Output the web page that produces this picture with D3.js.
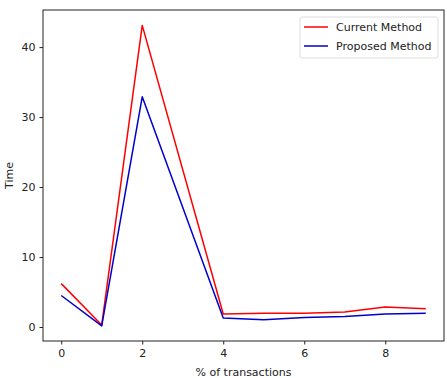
<!DOCTYPE html>
<html>
<head>
<meta charset="utf-8">
<script src="https://cdn.jsdelivr.net/npm/d3@7"></script>
<style>
  body { margin: 0; background: #fff; }
  text { font-family: "DejaVu Sans", sans-serif; }
</style>
</head>
<body>
<svg id="chart" width="447" height="378"></svg>
<script>
// data
let x_values = [0, 1, 2, 3, 4, 5, 6, 7, 8, 9];
let current_method = [6.2, 0.3, 43.1, null, 1.85, 1.95, 1.95, 2.15, 2.85, 2.6];
let proposed_method = [4.5, 0.15, 32.9, null, 1.3, 1.05, 1.35, 1.5, 1.85, 1.95];
let x_ticks = [0, 2, 4, 6, 8];
let y_ticks = [0, 10, 20, 30, 40];
let series_names = ['Current Method', 'Proposed Method'];
let series_colors = ['#ff0000', '#0000cc'];

let svg = d3.select('#chart');
let plot_left = 43, plot_right = 444, plot_top = 10, plot_bottom = 341;
let font_size = 11;

let x = d3.scaleLinear().domain([-0.45, 9.45]).range([plot_left, plot_right]);
let y = d3.scaleLinear().domain([-2.0, 45.3]).range([plot_bottom, plot_top]);

// frame
svg.append('rect')
  .attr('x', plot_left).attr('y', plot_top)
  .attr('width', plot_right - plot_left).attr('height', plot_bottom - plot_top)
  .attr('fill', 'none').attr('stroke', '#222').attr('stroke-width', 1);

let x_axis = svg.append('g').attr('transform', 'translate(0,' + plot_bottom + ')')
  .call(d3.axisBottom(x).tickValues(x_ticks).tickSize(3.5).tickPadding(5).tickFormat(d3.format('d')));
let y_axis = svg.append('g').attr('transform', 'translate(' + plot_left + ',0)')
  .call(d3.axisLeft(y).tickValues(y_ticks).tickSize(3.5).tickPadding(4).tickFormat(d3.format('d')));

[x_axis, y_axis].forEach(a => {
  a.select('.domain').remove();
  a.selectAll('line').attr('stroke', '#222');
  a.selectAll('text').attr('font-size', font_size).attr('fill', '#222')
    .style('font-family', '"DejaVu Sans", sans-serif');
});

svg.append('text')
  .attr('x', (plot_left + plot_right) / 2).attr('y', 376)
  .attr('text-anchor', 'middle').attr('font-size', font_size).attr('fill', '#222')
  .text('% of transactions');

svg.append('text')
  .attr('transform', 'translate(13,' + ((plot_top + plot_bottom) / 2) + ') rotate(-90)')
  .attr('text-anchor', 'middle').attr('font-size', font_size).attr('fill', '#222')
  .text('Time');

// lines (point 3 was not plotted, line goes straight from 2 to 4)
let line = d3.line()
  .x(d => x(d[0]))
  .y(d => y(d[1]));

[current_method, proposed_method].forEach((vals, k) => {
  let pts = x_values.map((xv, i) => [xv, vals[i]]).filter(d => d[1] != null);
  svg.append('path')
    .attr('d', line(pts))
    .attr('fill', 'none')
    .attr('stroke', series_colors[k])
    .attr('stroke-width', 1.5)
    .attr('stroke-linejoin', 'round');
});

// legend
let legend = svg.append('g').attr('transform', 'translate(300,17)');
legend.append('rect')
  .attr('width', 138).attr('height', 41).attr('rx', 2)
  .attr('fill', '#fff').attr('stroke', '#ddd').attr('stroke-width', 1);
series_names.forEach((name, i) => {
  let row = legend.append('g').attr('transform', 'translate(0,' + (10 + i * 19) + ')');
  row.append('line')
    .attr('x1', 4).attr('x2', 28)
    .attr('stroke', series_colors[i]).attr('stroke-width', 1.5);
  row.append('text')
    .attr('x', 36).attr('y', 4)
    .attr('font-size', font_size).attr('fill', '#222')
    .text(name);
});
</script>
</body>
</html>
